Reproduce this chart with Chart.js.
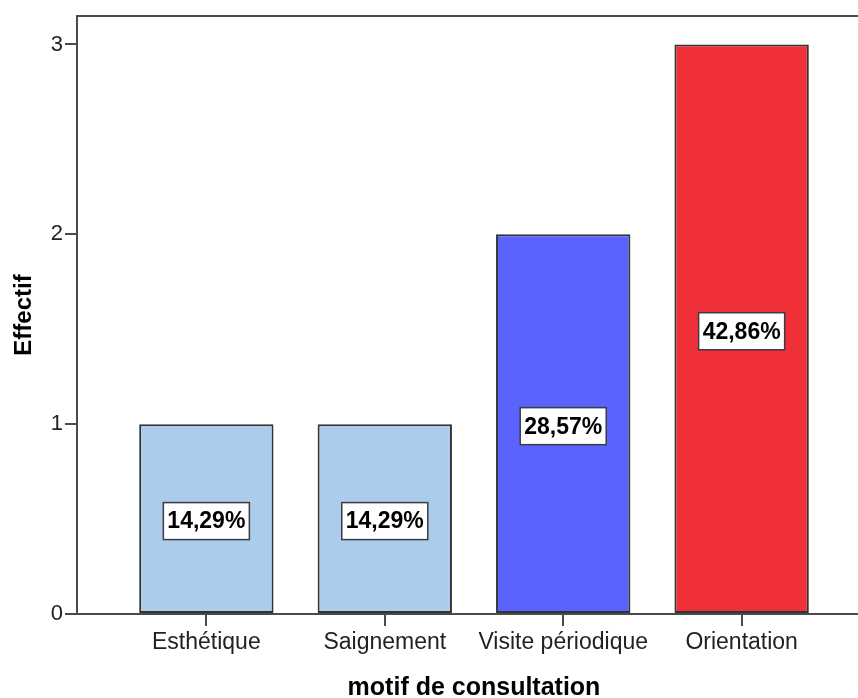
<!DOCTYPE html>
<html>
<head>
<meta charset="utf-8">
<script src="https://cdn.jsdelivr.net/npm/chart.js@4/dist/chart.umd.min.js"></script>
<style>
    html, body { margin: 0; padding: 0; background: #fff; overflow: hidden; }
    #wrap { width: 880px; height: 698px; }
</style>
</head>
<body>
<div id="wrap"><canvas id="motifChart" width="880" height="698"></canvas></div>
<script>
// Data
const categories = ['Esthétique', 'Saignement', 'Visite périodique', 'Orientation'];
const counts = [1, 1, 2, 3];
const barColors = ['#ABCDEB', '#ABCDEB', '#5A63FE', '#EF3039'];
const yTicks = [0, 1, 2, 3];

const total = counts.reduce((a, b) => a + b, 0);
const FONT = '"Liberation Sans", Arial, sans-serif';
const LINE = '#4a4a4a';

// Frame on top + percentage boxes in the middle of each bar
const decorPlugin = {
    id: 'decor',
    afterDatasetsDraw(chart) {
        const { ctx, chartArea, scales } = chart;
        ctx.save();
        ctx.strokeStyle = LINE;
        ctx.lineWidth = 2;
        ctx.beginPath();
        ctx.moveTo(chartArea.left, chartArea.top);
        ctx.lineTo(chartArea.right, chartArea.top);
        ctx.lineTo(chartArea.right, chartArea.bottom);
        ctx.stroke();

        const meta = chart.getDatasetMeta(0);
        ctx.font = 'bold 23px ' + FONT;
        ctx.textAlign = 'center';
        ctx.textBaseline = 'middle';
        meta.data.forEach((bar, i) => {
            const label = (counts[i] / total * 100).toFixed(2).replace('.', ',') + '%';
            const cx = bar.x;
            const cy = scales.y.getPixelForValue(counts[i] / 2) + 2;
            const w = ctx.measureText(label).width + 8;
            const h = 37;
            ctx.fillStyle = '#fff';
            ctx.fillRect(cx - w / 2, cy - h / 2, w, h);
            ctx.strokeStyle = '#3c3c46';
            ctx.lineWidth = 1.5;
            ctx.strokeRect(cx - w / 2, cy - h / 2, w, h);
            ctx.fillStyle = '#000';
            ctx.fillText(label, cx, cy + 1);
        });
        ctx.restore();
    }
};

const ctx = document.getElementById('motifChart').getContext('2d');
const motifChart = new Chart(ctx, {
    type: 'bar',
    data: {
        datasets: [{
            data: counts.map((v, i) => ({ x: i, y: v })),
            backgroundColor: barColors,
            borderColor: '#333333',
            borderWidth: 2,
            borderSkipped: false,
            barPercentage: 0.753,
            categoryPercentage: 1
        }]
    },
    options: {
        responsive: false,
        animation: false,
        layout: { padding: { top: 16, right: 9, bottom: 0, left: 0 } },
        plugins: { legend: { display: false }, tooltip: { enabled: false } },
        scales: {
            x: {
                type: 'linear',
                min: -0.725,
                max: 3.725,
                offset: false,
                afterBuildTicks: (scale) => { scale.ticks = categories.map((_, i) => ({ value: i })); },
                afterFit: (scale) => { scale.height = 84; },
                grid: { offset: false, drawOnChartArea: false, drawTicks: true, tickLength: 12, color: LINE, lineWidth: 2 },
                border: { display: true, color: LINE, width: 2 },
                ticks: {
                    autoSkip: false,
                    maxRotation: 0,
                    padding: 3,
                    color: '#222',
                    font: { family: FONT, size: 23 },
                    callback: (v) => categories[v] ?? ''
                },
                title: {
                    display: true,
                    text: 'motif de consultation',
                    color: '#000',
                    font: { family: FONT, size: 25, weight: 'bold', lineHeight: 0.8 },
                    padding: { top: 0, bottom: 0 }
                }
            },
            y: {
                min: 0,
                max: 3.15,
                afterBuildTicks: (scale) => { scale.ticks = yTicks.map(v => ({ value: v })); },
                afterFit: (scale) => { scale.width = 77; },
                grid: { drawOnChartArea: false, drawTicks: true, tickLength: 12, color: LINE, lineWidth: 2 },
                border: { display: true, color: LINE, width: 2 },
                ticks: {
                    padding: 2,
                    color: '#222',
                    font: { family: FONT, size: 22 }
                },
                title: {
                    display: true,
                    text: 'Effectif',
                    color: '#000',
                    font: { family: FONT, size: 24, weight: 'bold' },
                    padding: { top: 10, bottom: 0 }
                }
            }
        }
    },
    plugins: [decorPlugin]
});
</script>
</body>
</html>
